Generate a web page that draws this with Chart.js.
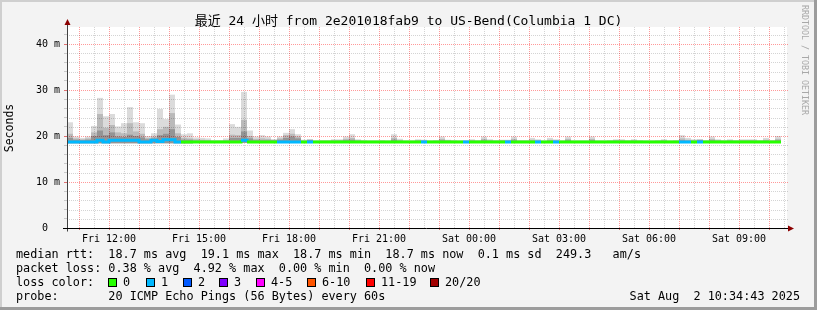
<!DOCTYPE html>
<html>
<head>
<meta charset="utf-8">
<script src="https://cdn.jsdelivr.net/npm/chart.js@4.4.1/dist/chart.umd.min.js"></script>
<style>
  html, body { margin: 0; padding: 0; background: #f3f3f3; }
  canvas { display: block; }
</style>
</head>
<body>
<canvas id="pingChart" width="817" height="310"></canvas>
<script>
"use strict";

// x values are minutes since Fri 00:00; one RRD step = 12 minutes
const startMinute = 636;
const endMinute = 2076;
const stepMinutes = 12;

// median rtt per step (ms)
const medianRtt = [
  18.7, 18.7, 18.7, 18.7, 18.7, 19.1, 18.7, 19.1, 19.1, 19.1,
  19.1, 19.1, 18.7, 18.7, 19.1, 18.8, 19.2, 19.2, 18.7, 18.7,
  18.7, 18.7, 18.7, 18.7, 18.7, 18.7, 18.7, 18.7, 18.7, 19.1,
  18.7, 18.7, 18.7, 18.7, 18.7, 18.7, 18.7, 18.7, 18.7, 18.7,
  18.7, 18.7, 18.7, 18.7, 18.7, 18.7, 18.7, 18.7, 18.7, 18.7,
  18.7, 18.7, 18.7, 18.7, 18.7, 18.7, 18.7, 18.7, 18.7, 18.7,
  18.7, 18.7, 18.7, 18.7, 18.7, 18.7, 18.7, 18.7, 18.7, 18.7,
  18.7, 18.7, 18.7, 18.7, 18.7, 18.7, 18.7, 18.7, 18.7, 18.7,
  18.7, 18.7, 18.7, 18.7, 18.7, 18.7, 18.7, 18.7, 18.7, 18.7,
  18.7, 18.7, 18.7, 18.7, 18.7, 18.7, 18.7, 18.7, 18.7, 18.7,
  18.7, 18.7, 18.7, 18.7, 18.7, 18.7, 18.7, 18.7, 18.7, 18.7,
  18.7, 18.7, 18.7, 18.7, 18.7, 18.7, 18.7, 18.7, 18.7
];

// lost pings per step (of 20)
const lossCount = [
  1, 1, 1, 1, 1, 1, 1, 1, 1, 1,
  1, 1, 1, 1, 1, 1, 1, 1, 1, 0,
  0, 0, 0, 0, 0, 0, 0, 0, 0, 1,
  0, 0, 0, 0, 0, 1, 1, 1, 1, 0,
  1, 0, 0, 0, 0, 0, 0, 0, 0, 0,
  0, 0, 0, 0, 0, 0, 0, 0, 0, 1,
  0, 0, 0, 0, 0, 0, 1, 0, 0, 0,
  0, 0, 0, 1, 0, 0, 0, 0, 1, 0,
  0, 1, 0, 0, 0, 0, 0, 0, 0, 0,
  0, 0, 0, 0, 0, 0, 0, 0, 0, 0,
  0, 0, 1, 1, 0, 1, 0, 0, 0, 0,
  0, 0, 0, 0, 0, 0, 0, 0, 0
];

// smoke: fastest ping, inner / middle bands and slowest ping (ms)
const smokeMin = [
  18.4, 18.4, 18.4, 18.4, 18.4, 18.4, 18.4, 18.4, 18.4, 18.4,
  18.4, 18.4, 18.4, 18.4, 18.4, 18.4, 18.4, 18.4, 18.4, 18.4,
  18.4, 18.5, 18.5, 18.5, 18.5, 18.5, 18.5, 18.5, 18.5, 18.5,
  18.5, 18.5, 18.5, 18.5, 18.5, 18.5, 18.5, 18.5, 18.5, 18.5,
  18.5, 18.5, 18.5, 18.5, 18.5, 18.5, 18.5, 18.5, 18.5, 18.5,
  18.5, 18.5, 18.5, 18.5, 18.5, 18.5, 18.5, 18.5, 18.5, 18.5,
  18.5, 18.5, 18.5, 18.5, 18.5, 18.5, 18.5, 18.5, 18.5, 18.5,
  18.5, 18.5, 18.5, 18.5, 18.5, 18.5, 18.5, 18.5, 18.5, 18.5,
  18.5, 18.5, 18.5, 18.5, 18.5, 18.5, 18.5, 18.5, 18.5, 18.5,
  18.5, 18.5, 18.5, 18.5, 18.5, 18.5, 18.5, 18.5, 18.5, 18.5,
  18.5, 18.5, 18.5, 18.5, 18.5, 18.5, 18.5, 18.5, 18.5, 18.5,
  18.5, 18.5, 18.5, 18.5, 18.5, 18.5, 18.5, 18.5, 18.5
];
const smokeInner = [
  19.6, 19.2, 19.1, 19.2, 20.0, 21.2, 20.2, 20.8, 19.9, 19.8,
  20.3, 20.0, 19.7, 19.3, 19.5, 20.2, 20.5, 21.5, 19.8, 19.2,
  19.2, 19.0, 19.0, 19.0, 19.0, 19.0, 19.0, 19.6, 19.6, 21.0,
  19.5, 19.1, 19.1, 19.1, 19.1, 19.2, 19.6, 19.9, 19.5, 19.0,
  19.2, 19.0, 19.0, 19.0, 19.0, 19.0, 19.1, 19.2, 19.0, 19.0,
  19.0, 19.0, 19.0, 19.0, 19.2, 19.0, 19.0, 19.0, 19.0, 19.0,
  19.0, 19.0, 19.1, 19.0, 19.0, 19.0, 19.0, 19.0, 19.0, 19.1,
  19.0, 19.0, 19.0, 19.0, 19.1, 19.0, 19.0, 19.0, 19.0, 19.0,
  19.0, 19.0, 19.0, 19.1, 19.0, 19.0, 19.0, 19.1, 19.0, 19.0,
  19.0, 19.0, 19.0, 19.0, 19.0, 19.0, 19.0, 19.0, 19.0, 19.0,
  19.0, 19.0, 19.1, 19.0, 19.0, 19.2, 19.0, 19.1, 19.0, 19.0,
  19.0, 19.0, 19.0, 19.0, 19.0, 19.0, 19.0, 19.0, 19.1
];
const smokeMid = [
  20.5, 19.5, 19.3, 19.5, 20.8, 24.8, 21.8, 22.4, 20.8, 20.6,
  22.8, 21.0, 20.5, 19.6, 19.9, 21.5, 22.0, 25.0, 20.6, 19.6,
  19.5, 19.3, 19.2, 19.1, 19.0, 19.0, 19.1, 20.3, 20.2, 23.5,
  20.0, 19.4, 19.5, 19.4, 19.2, 19.5, 20.2, 20.5, 19.9, 19.0,
  19.2, 19.0, 19.0, 19.0, 19.1, 19.1, 19.4, 19.6, 19.1, 19.0,
  19.0, 19.0, 19.0, 19.0, 19.6, 19.1, 19.0, 19.0, 19.1, 19.1,
  19.0, 19.0, 19.4, 19.1, 19.0, 19.0, 19.0, 19.1, 19.0, 19.4,
  19.1, 19.0, 19.1, 19.1, 19.4, 19.0, 19.0, 19.2, 19.1, 19.0,
  19.2, 19.1, 19.0, 19.4, 19.0, 19.0, 19.0, 19.4, 19.0, 19.0,
  19.0, 19.1, 19.1, 19.0, 19.1, 19.0, 19.0, 19.0, 19.0, 19.1,
  19.0, 19.0, 19.5, 19.2, 19.1, 19.2, 19.0, 19.4, 19.1, 19.0,
  19.1, 19.0, 19.1, 19.1, 19.1, 19.0, 19.2, 19.0, 19.4
];
const smokeMax = [
  23.0, 19.9, 19.6, 19.9, 22.2, 28.3, 24.3, 24.8, 22.1, 22.8,
  26.3, 23.0, 22.8, 20.0, 20.6, 25.9, 23.7, 29.0, 22.5, 20.4,
  20.6, 19.7, 19.6, 19.5, 19.1, 19.1, 19.5, 22.6, 22.0, 29.6,
  21.2, 19.9, 20.2, 19.9, 19.3, 19.9, 20.7, 21.5, 20.4, 19.2,
  19.3, 19.0, 19.1, 19.1, 19.3, 19.3, 19.9, 20.4, 19.3, 19.1,
  19.0, 19.0, 19.1, 19.0, 20.4, 19.4, 19.0, 19.0, 19.3, 19.2,
  19.0, 19.1, 19.9, 19.2, 19.1, 19.0, 19.1, 19.3, 19.1, 19.9,
  19.3, 19.1, 19.2, 19.2, 19.9, 19.1, 19.1, 19.6, 19.3, 19.0,
  19.6, 19.3, 19.0, 19.9, 19.0, 19.0, 19.0, 19.9, 19.0, 19.0,
  19.1, 19.3, 19.3, 19.1, 19.3, 19.1, 19.0, 19.0, 19.1, 19.3,
  19.0, 19.1, 20.2, 19.6, 19.3, 19.3, 19.1, 19.9, 19.3, 19.1,
  19.3, 19.1, 19.3, 19.3, 19.3, 19.1, 19.6, 19.1, 20.0
];

const yMax = 43.5;
const yLabelEvery = 10;
const yMinorEvery = 2;
const xLabelEvery = 180;   // minutes
const xMajorEvery = 60;
const xMinorEvery = 30;
const dayNames = ['Fri', 'Sat'];

const lossLabels = ['0', '1', '2', '3', '4-5', '6-10', '11-19', '20/20'];
const lossSwatches = ['#26ff00', '#00b8ff', '#0059ff', '#7e00ff', '#ff00ff', '#ff5500', '#ff0000', '#a10000'];
const lossUpper = [0, 1, 2, 3, 5, 10, 19, 20];

const titleText = '最近 24 小时 from 2e201018fab9 to US-Bend(Columbia 1 DC)';
const statLines = [
  'median rtt:  18.7 ms avg  19.1 ms max  18.7 ms min  18.7 ms now  0.1 ms sd  249.3   am/s',
  'packet loss: 0.38 % avg  4.92 % max  0.00 % min  0.00 % now',
  'loss color:',
  'probe:       20 ICMP Echo Pings (56 Bytes) every 60s'
];
const stampText = 'Sat Aug  2 10:34:43 2025';

const MONO = '"DejaVu Sans Mono", "Noto Sans CJK SC", monospace';
const RED_GRID = 'rgba(255, 0, 0, 0.4)';
const GRAY_GRID = 'rgba(0, 0, 0, 0.17)';

function colorForLoss(n) {
  for (let k = 0; k < lossUpper.length; k++) {
    if (n <= lossUpper[k]) return lossSwatches[k];
  }
  return lossSwatches[lossSwatches.length - 1];
}

function smokeBars(top) {
  return top.map((v, i) => ({ x: startMinute + i * stepMinutes + stepMinutes / 2, y: [smokeMin[i], v] }));
}

const medianPoints = medianRtt.map((v, i) => ({ x: startMinute + i * stepMinutes, y: v }));
medianPoints.push({ x: startMinute + medianRtt.length * stepMinutes, y: medianRtt[medianRtt.length - 1] });

function timeLabel(v) {
  if (v % xLabelEvery !== 0) return '';
  const day = dayNames[Math.floor(v / 1440)];
  const hh = String(Math.floor((v % 1440) / 60)).padStart(2, '0');
  const mm = String(v % 60).padStart(2, '0');
  return day + ' ' + hh + ':' + mm;
}

function gridColor(v, major, minor) {
  if (v % major === 0) return RED_GRID;
  if (v % minor === 0) return GRAY_GRID;
  return null;
}

// every grid step gets its own tick (Chart.js would thin them out otherwise)
function everyStep(from, to, step) {
  const out = [];
  for (let v = Math.ceil(from / step) * step; v <= to; v += step) out.push({ value: v });
  return out;
}

const smokeBar = {
  type: 'bar',
  grouped: false,
  borderWidth: 0,
  inflateAmount: 0,
  barPercentage: 1,
  categoryPercentage: 1
};

const framePlugin = {
  id: 'frame',
  beforeDraw(chart) {
    const { ctx, width, height, chartArea: a } = chart;
    ctx.save();
    ctx.fillStyle = '#f3f3f3';
    ctx.fillRect(0, 0, width, height);
    ctx.fillStyle = '#cfcfcf';
    ctx.fillRect(0, 0, width, 2);
    ctx.fillRect(0, 0, 2, height);
    ctx.fillStyle = '#9c9c9c';
    ctx.fillRect(0, height - 3, width, 3);
    ctx.fillRect(width - 3, 0, 3, height);
    ctx.fillStyle = '#ffffff';
    ctx.fillRect(a.left, a.top - 1, a.right - a.left, a.bottom - a.top + 1);
    ctx.restore();
  },
  beforeDatasetsDraw(chart) {
    // dotted rrdtool style grid, from the scales' own ticks
    const { ctx, chartArea: a, scales } = chart;
    ctx.save();
    ctx.lineWidth = 1;
    ctx.setLineDash([1, 1]);
    scales.x.ticks.forEach(t => {
      const col = gridColor(t.value, xMajorEvery, xMinorEvery);
      if (!col) return;
      const px = Math.round(scales.x.getPixelForValue(t.value)) + 0.5;
      ctx.strokeStyle = col;
      ctx.beginPath();
      ctx.moveTo(px, a.top - 1);
      ctx.lineTo(px, a.bottom);
      ctx.stroke();
    });
    scales.y.ticks.forEach(t => {
      const col = gridColor(t.value, yLabelEvery, yMinorEvery);
      if (!col) return;
      const py = Math.round(scales.y.getPixelForValue(t.value)) + 0.5;
      ctx.strokeStyle = col;
      ctx.beginPath();
      ctx.moveTo(a.left, py);
      ctx.lineTo(a.right + 1, py);
      ctx.stroke();
    });
    ctx.restore();
  },
  afterDraw(chart) {
    const { ctx, chartArea: a } = chart;
    const x0 = Math.round(a.left) + 0.5;
    const y0 = Math.round(a.bottom) + 0.5;
    ctx.save();
    // axes
    ctx.lineWidth = 1;
    ctx.strokeStyle = '#404040';
    ctx.beginPath();
    ctx.moveTo(x0, a.top - 5);
    ctx.lineTo(x0, y0 + 3);
    ctx.stroke();
    ctx.strokeStyle = '#000000';
    ctx.beginPath();
    ctx.moveTo(a.left - 4, y0);
    ctx.lineTo(a.right + 3, y0);
    ctx.stroke();
    // arrow heads
    ctx.fillStyle = '#8b0000';
    ctx.beginPath();
    ctx.moveTo(x0, a.top - 9);
    ctx.lineTo(x0 - 3, a.top - 3);
    ctx.lineTo(x0 + 3, a.top - 3);
    ctx.closePath();
    ctx.fill();
    ctx.beginPath();
    ctx.moveTo(a.right + 7, y0);
    ctx.lineTo(a.right + 1, y0 - 3);
    ctx.lineTo(a.right + 1, y0 + 3);
    ctx.closePath();
    ctx.fill();

    // y axis caption
    ctx.fillStyle = '#000000';
    ctx.font = '11.5px ' + MONO;
    ctx.textAlign = 'center';
    ctx.textBaseline = 'middle';
    ctx.save();
    ctx.translate(10.5, (a.top + a.bottom) / 2);
    ctx.rotate(-Math.PI / 2);
    ctx.fillText('Seconds', 0, 0);
    ctx.restore();

    // watermark
    ctx.save();
    ctx.fillStyle = '#a8a8a8';
    ctx.font = '8.3px ' + MONO;
    ctx.textAlign = 'left';
    ctx.translate(804, 5);
    ctx.rotate(Math.PI / 2);
    ctx.fillText('RRDTOOL / TOBI OETIKER', 0, 0);
    ctx.restore();

    // legend block
    ctx.font = '11.8px ' + MONO;
    ctx.textAlign = 'left';
    ctx.textBaseline = 'middle';
    ctx.fillStyle = '#000000';
    const rowY = [254.5, 268.5, 282.5, 296.5];
    statLines.forEach((line, r) => ctx.fillText(line, 16, rowY[r]));
    const swatchX = [108, 146, 183, 219, 256, 307, 366, 430];
    lossLabels.forEach((lab, k) => {
      ctx.fillStyle = lossSwatches[k];
      ctx.fillRect(swatchX[k], rowY[2] - 4.5, 9, 9);
      ctx.strokeStyle = '#000000';
      ctx.strokeRect(swatchX[k] + 0.5, rowY[2] - 4, 8, 8);
      ctx.fillStyle = '#000000';
      ctx.fillText(lab, swatchX[k] + 15, rowY[2]);
    });
    ctx.textAlign = 'right';
    ctx.fillText(stampText, 800, rowY[3]);
    ctx.restore();
  }
};

new Chart(document.getElementById('pingChart'), {
  type: 'bar',
  data: {
    datasets: [
      {
        type: 'line',
        label: 'median rtt',
        data: medianPoints,
        stepped: true,
        borderWidth: 3,
        borderCapStyle: 'butt',
        borderColor: colorForLoss(0),
        pointRadius: 0,
        segment: { borderColor: c => colorForLoss(lossCount[c.p0DataIndex]) },
        order: 0
      },
      Object.assign({ label: 'inner', data: smokeBars(smokeInner), backgroundColor: 'rgba(0,0,0,0.2)', order: 1 }, smokeBar),
      Object.assign({ label: 'mid', data: smokeBars(smokeMid), backgroundColor: 'rgba(0,0,0,0.15)', order: 2 }, smokeBar),
      Object.assign({ label: 'max', data: smokeBars(smokeMax), backgroundColor: 'rgba(0,0,0,0.14)', order: 3 }, smokeBar)
    ]
  },
  options: {
    responsive: false,
    animation: false,
    layout: { padding: 0 },
    plugins: {
      legend: { display: false },
      tooltip: { enabled: false },
      title: {
        display: true,
        text: titleText,
        color: '#000000',
        font: { family: MONO, size: 13, weight: 'normal', lineHeight: 1 },
        padding: { top: 15, bottom: 0 }
      }
    },
    scales: {
      x: {
        type: 'linear',
        min: startMinute,
        max: endMinute,
        offset: false,
        afterFit: s => { s.height = 82; },
        afterBuildTicks: s => { s.ticks = everyStep(startMinute, endMinute, xMinorEvery); },
        ticks: {
          autoSkip: false,
          maxRotation: 0,
          padding: 3,
          color: '#000000',
          font: { family: MONO, size: 10 },
          callback: v => timeLabel(v)
        },
        grid: {
          offset: false,
          drawOnChartArea: false,
          tickLength: 2,
          tickColor: c => (c.tick && c.tick.value % xMajorEvery === 0 ? '#e07070' : 'transparent')
        },
        border: { display: false }
      },
      y: {
        min: 0,
        max: yMax,
        afterFit: s => { s.width = 67; },
        afterBuildTicks: s => { s.ticks = everyStep(0, yMax, yMinorEvery); },
        ticks: {
          autoSkip: false,
          padding: 4,
          color: '#000000',
          font: { family: MONO, size: 10 },
          callback: v => (v % yLabelEvery === 0 ? (v === 0 ? '0  ' : v + ' m') : '')
        },
        grid: {
          drawOnChartArea: false,
          tickLength: 3,
          tickColor: c => (c.tick && c.tick.value % yLabelEvery === 0 ? '#e07070' : '#c8c8c8')
        },
        border: { display: false }
      },
      right: {
        position: 'right',
        display: true,
        afterFit: s => { s.width = 30; },
        ticks: { display: false },
        grid: { display: false },
        border: { display: false }
      }
    }
  },
  plugins: [framePlugin]
});
</script>
</body>
</html>
